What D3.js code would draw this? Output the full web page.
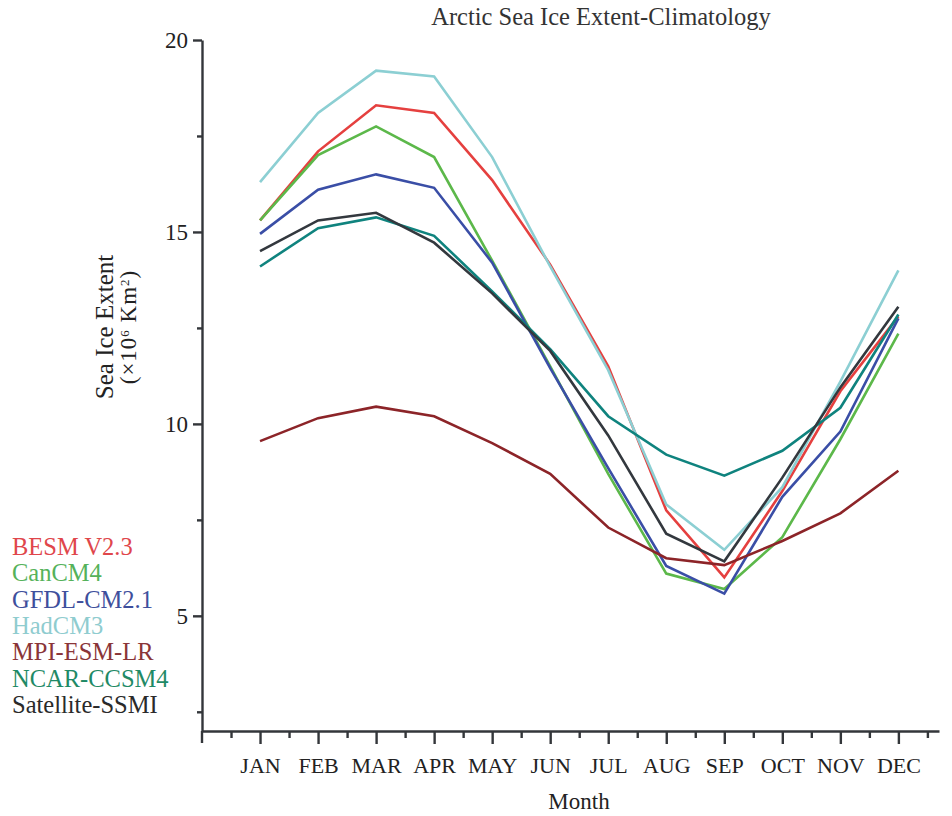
<!DOCTYPE html>
<html>
<head>
<meta charset="utf-8">
<script src="https://cdn.jsdelivr.net/npm/d3@7"></script>
<style>
  body { margin: 0; background: #fff; }
  svg { display: block; font-family: "Liberation Serif", "DejaVu Serif", serif; }
  .axis path, .axis line { stroke: #33363a; stroke-width: 2.4; }
  .axis text { fill: #222; font-size: 22px; font-family: "Liberation Serif", serif; }
</style>
</head>
<body>
<svg width="952" height="816"></svg>
<script>
// months on the x axis
const months = ["JAN", "FEB", "MAR", "APR", "MAY", "JUN", "JUL", "AUG", "SEP", "OCT", "NOV", "DEC"];

// sea ice extent (x10^6 km2)
const besm   = [15.3, 17.1, 18.3, 18.1, 16.35, 14.15, 11.5, 7.75, 6.0, 8.25, 10.85, 12.8];
const canCM4 = [15.3, 17.0, 17.75, 16.95, 14.25, 11.5, 8.7, 6.1, 5.7, 7.05, 9.6, 12.35];
const gfdl   = [14.95, 16.1, 16.5, 16.15, 14.2, 11.45, 8.85, 6.3, 5.58, 8.1, 9.8, 12.75];
const hadcm3 = [16.3, 18.1, 19.2, 19.05, 16.95, 14.1, 11.4, 7.9, 6.72, 8.35, 11.1, 14.0];
const mpi    = [9.55, 10.15, 10.45, 10.2, 9.5, 8.7, 7.3, 6.5, 6.32, 6.95, 7.67, 8.78];
const ncar   = [14.1, 15.1, 15.38, 14.9, 13.45, 11.95, 10.2, 9.2, 8.65, 9.3, 10.42, 12.85];
const ssmi   = [14.5, 15.3, 15.5, 14.72, 13.4, 11.9, 9.7, 7.14, 6.42, 8.6, 10.95, 13.05];

const seriesNames = ["BESM V2.3", "CanCM4", "GFDL-CM2.1", "HadCM3", "MPI-ESM-LR", "NCAR-CCSM4", "Satellite-SSMI"];
const seriesValues = [besm, canCM4, gfdl, hadcm3, mpi, ncar, ssmi];
const lineColors = ["#e5403f", "#5cb84a", "#3a4ea6", "#8ccfd3", "#8c2428", "#0f837e", "#33383e"];
const labelColors = ["#e0464b", "#55b25a", "#3e4f9c", "#8fcccf", "#8a3538", "#1f8a66", "#2a2a2a"];

const yMajor = [5, 10, 15, 20];
const yMinor = [2.5, 7.5, 12.5, 17.5];

const svg = d3.select("svg");

// scales
const x = d3.scaleLinear().domain([0, 12.7]).range([202, 939]);
const y = d3.scaleLinear().domain([2, 20]).range([731, 40]);

// x axis (major + minor ticks)
svg.append("g")
    .attr("class", "axis")
    .attr("transform", "translate(0," + y(2) + ")")
    .call(d3.axisBottom(x)
        .tickValues(d3.range(1, 13))
        .tickFormat(d => months[d - 1])
        .tickSize(13)
        .tickSizeOuter(0)
        .tickPadding(13));

svg.append("g")
    .attr("class", "axis")
    .attr("transform", "translate(0," + y(2) + ")")
    .call(d3.axisBottom(x)
        .tickValues(d3.range(0.5, 13, 1))
        .tickFormat("")
        .tickSize(7))
    .select(".domain").remove();

// y axis
svg.append("g")
    .attr("class", "axis y-major")
    .attr("transform", "translate(" + x(0) + ",0)")
    .call(d3.axisLeft(y)
        .tickValues(yMajor)
        .tickSize(9)
        .tickSizeOuter(0)
        .tickPadding(5));
svg.selectAll(".y-major text").style("font-size", "23px");

svg.append("g")
    .attr("class", "axis")
    .attr("transform", "translate(" + x(0) + ",0)")
    .call(d3.axisLeft(y)
        .tickValues(yMinor)
        .tickFormat("")
        .tickSize(5))
    .select(".domain").remove();

// y axis runs a little past the x axis
svg.append("line")
    .attr("x1", x(0)).attr("x2", x(0))
    .attr("y1", y(2)).attr("y2", y(2) + 12)
    .attr("stroke", "#33363a").attr("stroke-width", 2.4);

// lines
const line = d3.line()
    .x((d, i) => x(i + 1))
    .y(d => y(d));

svg.append("g")
    .selectAll("path")
    .data(seriesValues)
    .join("path")
    .attr("d", line)
    .attr("fill", "none")
    .attr("stroke", (d, i) => lineColors[i])
    .attr("stroke-width", 2.6)
    .attr("stroke-linejoin", "miter");

// title
svg.append("text")
    .attr("x", 601)
    .attr("y", 25)
    .attr("text-anchor", "middle")
    .attr("font-size", 24.5)
    .attr("fill", "#333")
    .text("Arctic Sea Ice Extent-Climatology");

// x label
svg.append("text")
    .attr("x", 579)
    .attr("y", 809)
    .attr("text-anchor", "middle")
    .attr("font-size", 23)
    .attr("fill", "#222")
    .text("Month");

// y label, two lines
svg.append("text")
    .attr("transform", "translate(113,327) rotate(-90)")
    .attr("text-anchor", "middle")
    .attr("font-size", 25)
    .attr("fill", "#222")
    .text("Sea Ice Extent");

const unit = svg.append("text")
    .attr("transform", "translate(136,327) rotate(-90)")
    .attr("text-anchor", "middle")
    .attr("font-size", 23)
    .attr("letter-spacing", 1)
    .attr("fill", "#222");
unit.append("tspan").text("(×10");
unit.append("tspan").attr("baseline-shift", "super").attr("font-size", 13).text("6");
unit.append("tspan").text(" Km");
unit.append("tspan").attr("baseline-shift", "super").attr("font-size", 13).text("2");
unit.append("tspan").text(")");

// legend as coloured text
svg.append("g")
    .selectAll("text")
    .data(seriesNames)
    .join("text")
    .attr("x", 12)
    .attr("y", (d, i) => 555 + i * 26.3)
    .attr("font-size", 24.5)
    .attr("fill", (d, i) => labelColors[i])
    .text(d => d);
</script>
</body>
</html>
